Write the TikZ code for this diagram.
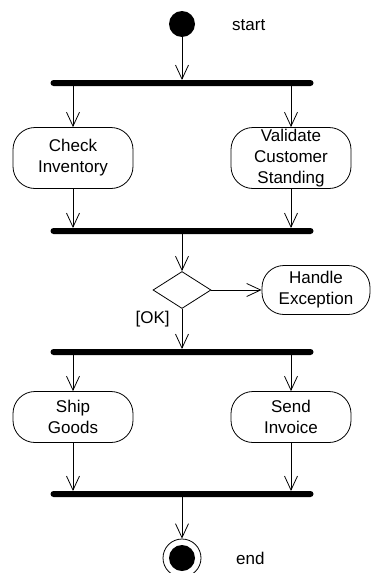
\documentclass[tikz,border=0pt]{standalone}
\usepackage{fontspec}
\setmainfont{Liberation Sans}
\usetikzlibrary{arrows.meta,shapes.geometric}
\begin{document}
\begin{tikzpicture}[x=1pt,y=-1pt,
	action/.style={draw,line width=0.8pt,rounded corners=22pt,minimum width=120pt,align=center,inner sep=0pt,font=\fontsize{17}{21}\selectfont},
	bar/.style={fill=black,rounded corners=3pt,minimum width=263pt,minimum height=6pt,inner sep=0pt,outer sep=0pt},
	flow/.style={line width=0.8pt,-{Straight Barb[length=14pt,width=13pt,line width=0.8pt]}},
	caption/.style={font=\fontsize{17}{21}\selectfont,inner sep=0pt}]
	   \clip (0,0) rectangle (371,573);
	   \node [circle,fill=black,minimum size=26pt,inner sep=0pt] (init) at (182,24) {};
	   \node [caption,anchor=west] (startlbl) at (232,25) {start};
	   \node [bar] (fork1) at (182,83) {};
	   \node [action,minimum height=61pt] (check) at (73,158) {Check\\Inventory};
	   \node [action,minimum height=61pt] (validate) at (291,158) {Validate\\Customer\\Standing};
	   \node [bar] (join1) at (182,231) {};
	   \node [diamond,draw,line width=0.8pt,minimum width=58pt,minimum height=37pt,inner sep=0pt] (choice) at (182,290) {};
	   \node [action,minimum width=108pt,minimum height=49pt] (handle) at (316,290) {Handle\\Exception};
	   \node [bar] (fork2) at (182,352) {};
	   \node [action,minimum height=51pt] (ship) at (73,417) {Ship\\Goods};
	   \node [action,minimum height=51pt] (send) at (291,417) {Send\\Invoice};
	   \node [bar] (join2) at (182,494) {};
	   \node [circle,draw,line width=0.8pt,minimum size=38pt,inner sep=0pt] (final) at (182,558) {};
	   \node [circle,fill=black,minimum size=26pt,inner sep=0pt] (finaldot) at (final) {};
	   \node [caption,anchor=west] (endlbl) at (236,558) {end};
	   \draw [flow] (init) -- (fork1);
	   \draw [flow] (fork1.south -| check.north) -- (check.north);
	   \draw [flow] (fork1.south -| validate.north) -- (validate.north);
	   \draw [flow] (check.south) -- (check.south |- join1.north);
	   \draw [flow] (validate.south) -- (validate.south |- join1.north);
	   \draw [flow] (join1) -- (choice);
	   \draw [flow] (choice) -- (handle);
	   \draw [flow] (choice) -- node [caption,pos=0.25,left=12pt] (ok) {[OK]} (fork2);
	   \draw [flow] (fork2.south -| ship.north) -- (ship.north);
	   \draw [flow] (fork2.south -| send.north) -- (send.north);
	   \draw [flow] (ship.south) -- (ship.south |- join2.north);
	   \draw [flow] (send.south) -- (send.south |- join2.north);
	   \draw [flow] (join2) -- (final);
\end{tikzpicture}
\end{document}
